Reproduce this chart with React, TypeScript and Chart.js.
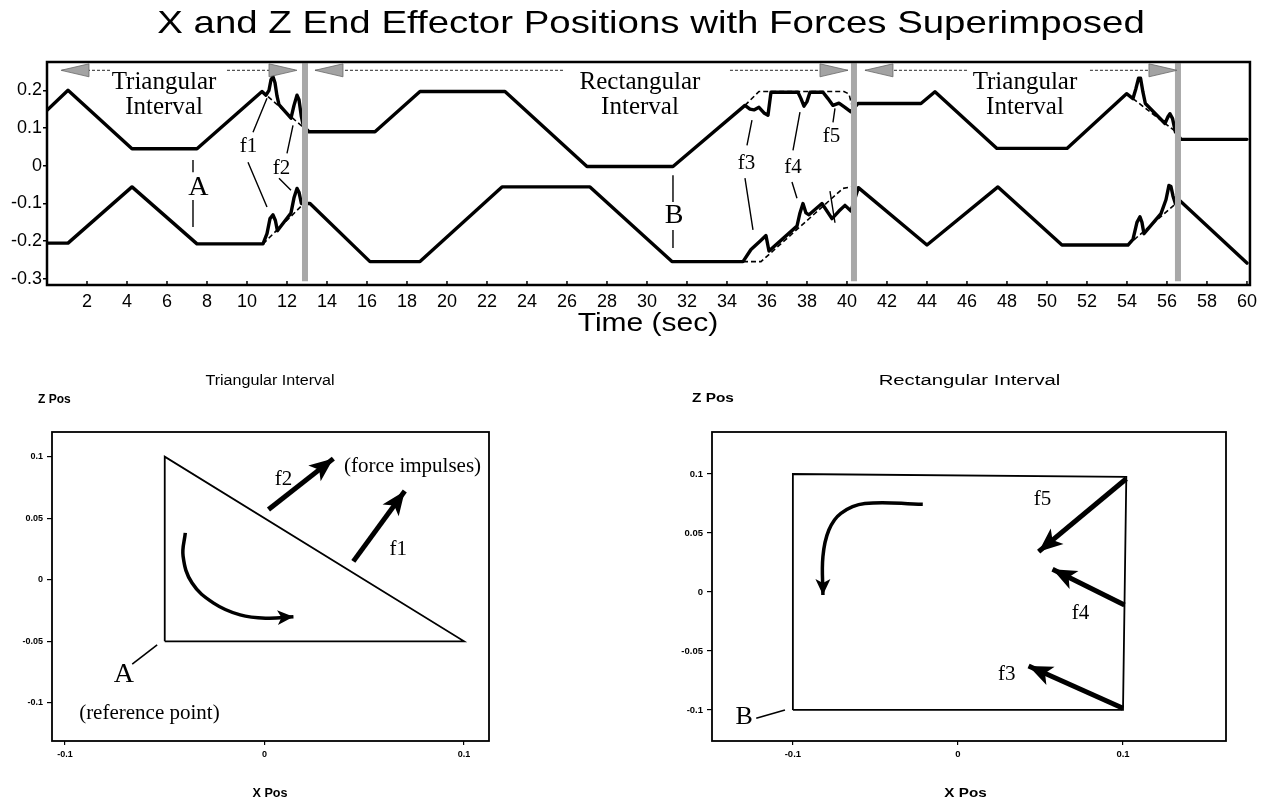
import React, { useEffect, useRef } from 'react';
import { Chart, registerables } from 'chart.js';

Chart.register(...registerables);

// ---------------- top chart: time traces ----------------
const TIME_TICKS = [2, 4, 6, 8, 10, 12, 14, 16, 18, 20, 22, 24, 26, 28, 30, 32, 34, 36, 38, 40, 42, 44, 46, 48, 50, 52, 54, 56, 58, 60];
const POS_TICKS = [-0.3, -0.2, -0.1, 0, 0.1, 0.2];

// upper trace (X end effector position)
const UPPER_T = [0, 1.05, 4.25, 7.5, 10.75, 10.95, 11.1, 11.2, 11.3, 11.4, 11.5, 11.6, 12.2, 12.35, 12.5, 12.6, 12.72, 12.82, 13.1, 16.4, 18.65, 22.9, 27.0, 31.3, 34.9, 35.15, 35.35, 35.6, 35.85, 36.05, 36.2, 37.55, 37.7, 37.85, 38.0, 38.15, 38.8, 39.05, 39.3, 39.6, 39.9, 40.2, 40.55, 43.7, 44.4, 47.5, 51.0, 53.98, 54.3, 54.45, 54.58, 54.68, 54.8, 54.92, 55.9, 56.05, 56.15, 56.28, 56.42, 56.7, 60];
const UPPER_V = [0.147, 0.2, 0.045, 0.045, 0.197, 0.187, 0.2, 0.228, 0.236, 0.22, 0.185, 0.162, 0.126, 0.16, 0.187, 0.175, 0.13, 0.105, 0.09, 0.09, 0.197, 0.197, -0.002, -0.002, 0.16, 0.15, 0.148, 0.155, 0.14, 0.134, 0.195, 0.195, 0.178, 0.158, 0.17, 0.195, 0.195, 0.178, 0.16, 0.166, 0.155, 0.143, 0.165, 0.165, 0.196, 0.046, 0.046, 0.191, 0.178, 0.205, 0.232, 0.232, 0.195, 0.165, 0.112, 0.13, 0.138, 0.125, 0.09, 0.07, 0.07];

// lower trace (Z end effector position)
const LOWER_T = [0, 1.05, 4.25, 7.5, 10.8, 11.0, 11.15, 11.3, 11.42, 11.52, 12.2, 12.35, 12.5, 12.6, 12.72, 13.15, 16.15, 18.65, 22.75, 27.15, 31.25, 34.8, 35.2, 35.65, 35.95, 36.1, 37.5, 37.65, 37.8, 37.95, 38.1, 38.75, 39.25, 39.6, 39.9, 40.2, 40.57, 44.0, 47.55, 50.75, 54.05, 54.3, 54.5, 54.65, 54.75, 54.85, 55.7, 55.95, 56.1, 56.2, 56.3, 56.42, 56.65, 60];
const LOWER_V = [-0.205, -0.205, -0.056, -0.207, -0.207, -0.18, -0.14, -0.13, -0.145, -0.172, -0.125, -0.085, -0.06, -0.07, -0.1, -0.1, -0.254, -0.254, -0.056, -0.056, -0.254, -0.254, -0.222, -0.2, -0.185, -0.226, -0.16, -0.125, -0.1, -0.125, -0.13, -0.1, -0.14, -0.12, -0.105, -0.12, -0.058, -0.21, -0.056, -0.21, -0.21, -0.195, -0.15, -0.135, -0.15, -0.18, -0.127, -0.09, -0.052, -0.055, -0.08, -0.1, -0.093, -0.258];

// nominal (force-free) paths, dashed; null splits segments
const NOMINAL_UPPER_T = [10.75, 12.85, 12.9, 34.9, 35.6, 39.85, 40.1, 40.3, 40.4, 53.98, 56.45];
const NOMINAL_UPPER_V = [0.197, 0.1, null, 0.16, 0.197, 0.197, 0.19, 0.15, null, 0.191, 0.09];
const NOMINAL_LOWER_T = [10.8, 12.85, 12.9, 34.8, 35.7, 39.8, 40.35, 40.4, 54.05, 56.45];
const NOMINAL_LOWER_V = [-0.207, -0.1, null, -0.254, -0.254, -0.06, -0.055, null, -0.21, -0.1];

// interval boundaries (gray bars)
const BOUNDARY_T = [12.9, 40.35, 56.55];
const BOUNDARY_SPAN = [-0.306, 0.272];

// interval arrows along the top
const ARROW_TAIL_T = [3.15, 9.0, 25.8, 34.15, 46.0, 52.15];
const ARROW_TIP_T = [0.7, 12.5, 13.4, 40.05, 40.9, 56.5];
const ARROW_LEVEL = 0.253;

const INTERVAL_NAMES = ['Triangular', 'Rectangular', 'Triangular'];
const INTERVAL_CENTER_T = [5.85, 29.65, 48.9];

// force labels on the traces
const FORCE_LABELS = ['f1', 'f2', 'A', 'B', 'f3', 'f4', 'f5'];
const FORCE_LABEL_T = [10.07, 11.73, 7.57, 31.35, 34.98, 37.3, 39.23];
const FORCE_LABEL_V = [0.05, -0.007, -0.059, -0.131, 0.006, -0.005, 0.077];

// leader lines (pairs of points, null separates)
const LEADER_T = [10.3, 11.0, 0, 10.05, 11.0, 0, 12.0, 12.3, 0, 11.6, 12.2, 0, 7.3, 7.3, 0, 7.3, 7.3, 0, 31.3, 31.3, 0, 31.3, 31.3, 0, 35.25, 35.0, 0, 34.9, 35.3, 0, 37.65, 37.3, 0, 37.25, 37.5, 0, 39.4, 39.3, 0, 39.15, 39.4];
const LEADER_V = [0.089, 0.179, null, 0.0095, -0.1095, null, 0.033, 0.107, null, -0.033, -0.065, null, 0.015, -0.017, null, -0.091, -0.162, null, -0.025, -0.096, null, -0.17, -0.218, null, 0.121, 0.054, null, -0.033, -0.17, null, 0.142, 0.041, null, -0.043, -0.086, null, 0.152, 0.115, null, -0.067, -0.151];

// ---------------- bottom-left: triangular interval ----------------
const TRI_X_TICKS = [-0.1, 0, 0.1];
const TRI_Z_TICKS = [-0.1, -0.05, 0, 0.05, 0.1];
const TRI_PATH_X = [-0.05, -0.05, 0.1, -0.05];
const TRI_PATH_Z = [-0.05, 0.1, -0.05, -0.05];
const TRI_FORCE_TAIL_X = [0.0445, 0.002];
const TRI_FORCE_TAIL_Z = [0.0149, 0.057];
const TRI_FORCE_TIP_X = [0.0703, 0.0345];
const TRI_FORCE_TIP_Z = [0.072, 0.0984];
const TRI_TURN_X = [-0.0397, -0.0408, -0.0363, -0.0255, -0.0122, 0.0012, 0.0145];
const TRI_TURN_Z = [0.038, 0.019, -0.0027, -0.019, -0.0286, -0.0313, -0.03];
const TRI_A_LEADER_X = [-0.0663, -0.0538];
const TRI_A_LEADER_Z = [-0.0685, -0.053];

// ---------------- bottom-right: rectangular interval ----------------
const RECT_X_TICKS = [-0.1, 0, 0.1];
const RECT_Z_TICKS = [-0.1, -0.05, 0, 0.05, 0.1];
const RECT_PATH_X = [-0.1, -0.1, 0.102, 0.1, -0.1];
const RECT_PATH_Z = [-0.1, 0.1, 0.0975, -0.1, -0.1];
const RECT_FORCE_TAIL_X = [0.1, 0.1009, 0.102];
const RECT_FORCE_TAIL_Z = [-0.0986, -0.011, 0.096];
const RECT_FORCE_TIP_X = [0.0428, 0.0573, 0.0489];
const RECT_FORCE_TIP_Z = [-0.0627, 0.0192, 0.0342];
const RECT_TURN_X = [-0.0213, -0.0564, -0.0709, -0.0782, -0.0818, -0.0818];
const RECT_TURN_Z = [0.0743, 0.075, 0.0667, 0.0525, 0.03, -0.0025];
const RECT_B_LEADER_X = [-0.1222, -0.1048];
const RECT_B_LEADER_Z = [-0.107, -0.1];

// ---------------- helpers ----------------
const SANS = "'Liberation Sans', Arial, Helvetica, sans-serif";
const SERIF = "'Liberation Serif', 'Times New Roman', Times, serif";

const zip = (xs: number[], ys: (number | null)[]) => xs.map((x, i) => ({ x, y: ys[i] }));

type Head = { len: number; hw: number; notch: number; fill: string; stroke?: string };
type Label = { text: string; x: number; y: number; font: string; baseline?: CanvasTextBaseline; sx?: number };
type FixedText = { text: string; x: number; y: number; font: string; align?: CanvasTextAlign; sx?: number };

function drawText(ctx: CanvasRenderingContext2D, t: string, x: number, y: number, font: string, align: CanvasTextAlign, baseline: CanvasTextBaseline, sx = 1) {
  ctx.save();
  ctx.translate(x, y);
  ctx.scale(sx, 1);
  ctx.font = font;
  ctx.textAlign = align;
  ctx.textBaseline = baseline;
  ctx.fillStyle = '#000';
  ctx.fillText(t, 0, 0);
  ctx.restore();
}

function drawHead(ctx: CanvasRenderingContext2D, ax: number, ay: number, bx: number, by: number, h: Head) {
  const dx = bx - ax, dy = by - ay;
  const L = Math.hypot(dx, dy) || 1;
  const ux = dx / L, uy = dy / L;
  const nx = -uy, ny = ux;
  const px = bx - ux * h.len, py = by - uy * h.len;
  ctx.save();
  ctx.beginPath();
  ctx.moveTo(bx, by);
  ctx.lineTo(px + nx * h.hw, py + ny * h.hw);
  ctx.lineTo(bx - ux * (h.len - h.notch), by - uy * (h.len - h.notch));
  ctx.lineTo(px - nx * h.hw, py - ny * h.hw);
  ctx.closePath();
  ctx.fillStyle = h.fill;
  ctx.fill();
  if (h.stroke) {
    ctx.strokeStyle = h.stroke;
    ctx.lineWidth = 0.8;
    ctx.stroke();
  }
  ctx.restore();
}

function overlayPlugin(cfg: { frameWidth: number; innerXTicks?: boolean; labels: Label[]; texts: FixedText[] }) {
  return {
    id: 'overlay',
    afterDatasetsDraw(chart: any) {
      const ctx: CanvasRenderingContext2D = chart.ctx;
      const { left, right, top, bottom } = chart.chartArea;
      const xs = chart.scales.x, ys = chart.scales.y;
      // frame
      ctx.save();
      ctx.strokeStyle = '#000';
      ctx.lineWidth = cfg.frameWidth;
      ctx.strokeRect(left, top, right - left, bottom - top);
      if (cfg.innerXTicks) {
        ctx.lineWidth = 1.5;
        xs.ticks.forEach((tk: any) => {
          const px = xs.getPixelForValue(tk.value);
          ctx.beginPath();
          ctx.moveTo(px, bottom);
          ctx.lineTo(px, bottom - 4);
          ctx.stroke();
        });
      }
      ctx.restore();
      // arrow heads
      chart.data.datasets.forEach((ds: any, i: number) => {
        if (!ds.arrowHead) return;
        const pts = chart.getDatasetMeta(i).data.filter((p: any) => !p.skip);
        if (pts.length < 2) return;
        const a = pts[pts.length - 2], b = pts[pts.length - 1];
        drawHead(ctx, a.x, a.y, b.x, b.y, ds.arrowHead);
      });
      // labels in data coordinates
      cfg.labels.forEach((l) => {
        drawText(ctx, l.text, xs.getPixelForValue(l.x), ys.getPixelForValue(l.y), l.font, 'center', l.baseline || 'middle', l.sx || 1);
      });
      // fixed texts
      cfg.texts.forEach((t) => {
        drawText(ctx, t.text, t.x, t.y, t.font, t.align || 'center', 'alphabetic', t.sx || 1);
      });
    },
  };
}

// ---------------- configs ----------------
function topConfig(): any {
  const grayHead: Head = { len: 28, hw: 6.5, notch: 0, fill: '#a3a3a3', stroke: '#6a6a6a' };
  const datasets: any[] = [];
  BOUNDARY_T.forEach((t) => {
    datasets.push({ data: [{ x: t, y: BOUNDARY_SPAN[0] }, { x: t, y: BOUNDARY_SPAN[1] }], borderColor: '#a8a8a8', borderWidth: 6, order: 0 });
  });
  ARROW_TAIL_T.forEach((t, i) => {
    datasets.push({ data: [{ x: t, y: ARROW_LEVEL }, { x: ARROW_TIP_T[i], y: ARROW_LEVEL }], borderColor: '#555', borderWidth: 1.3, borderDash: [3, 2], arrowHead: grayHead, order: 1 });
  });
  datasets.push({ label: 'Nominal X', data: zip(NOMINAL_UPPER_T, NOMINAL_UPPER_V), borderColor: '#000', borderWidth: 1.6, borderDash: [5, 3], order: 2 });
  datasets.push({ label: 'Nominal Z', data: zip(NOMINAL_LOWER_T, NOMINAL_LOWER_V), borderColor: '#000', borderWidth: 1.6, borderDash: [5, 3], order: 2 });
  datasets.push({ label: 'Leaders', data: zip(LEADER_T, LEADER_V), borderColor: '#000', borderWidth: 1.4, order: 2 });
  datasets.push({ label: 'X position', data: zip(UPPER_T, UPPER_V), borderColor: '#000', borderWidth: 3.4, borderJoinStyle: 'round', borderCapStyle: 'round', order: 3 });
  datasets.push({ label: 'Z position', data: zip(LOWER_T, LOWER_V), borderColor: '#000', borderWidth: 3.4, borderJoinStyle: 'round', borderCapStyle: 'round', order: 3 });

  const labels: Label[] = [];
  INTERVAL_NAMES.forEach((n, i) => {
    labels.push({ text: n, x: INTERVAL_CENTER_T[i], y: 0.204, font: `25px ${SERIF}`, baseline: 'alphabetic' });
    labels.push({ text: 'Interval', x: INTERVAL_CENTER_T[i], y: 0.137, font: `25px ${SERIF}`, baseline: 'alphabetic' });
  });
  FORCE_LABELS.forEach((n, i) => {
    const big = n === 'A' || n === 'B';
    labels.push({ text: n, x: FORCE_LABEL_T[i], y: FORCE_LABEL_V[i], font: `${big ? 28 : 21}px ${SERIF}` });
  });

  return {
    type: 'line',
    data: { datasets },
    options: {
      animation: false,
      responsive: false,
      maintainAspectRatio: false,
      devicePixelRatio: 1,
      layout: { padding: { left: 0, right: 13, top: 62, bottom: 0 } },
      elements: { point: { radius: 0, hoverRadius: 0 }, line: { tension: 0 } },
      plugins: { legend: { display: false }, tooltip: { enabled: false } },
      scales: {
        x: {
          type: 'linear',
          min: 0,
          max: 60.15,
          afterBuildTicks: (s: any) => { s.ticks = TIME_TICKS.map((v) => ({ value: v })); },
          afterFit: (s: any) => { s.height = 60; },
          ticks: { autoSkip: false, maxRotation: 0, padding: 6, color: '#000', font: { family: SANS, size: 18 }, callback: (v: any) => String(v) },
          grid: { display: false, drawTicks: false },
          border: { display: false },
        },
        y: {
          type: 'linear',
          min: -0.316,
          max: 0.275,
          afterBuildTicks: (s: any) => { s.ticks = POS_TICKS.map((v) => ({ value: v })); },
          afterFit: (s: any) => { s.width = 47; },
          ticks: { padding: 1, color: '#000', font: { family: SANS, size: 18 }, callback: (v: any) => String(v) },
          grid: { display: true, drawOnChartArea: false, drawTicks: true, tickLength: 4, color: '#000', lineWidth: 1.5 },
          border: { display: false },
        },
      },
    },
    plugins: [
      overlayPlugin({
        frameWidth: 2.5,
        innerXTicks: true,
        labels,
        texts: [
          { text: 'X and Z End Effector Positions with Forces Superimposed', x: 651, y: 33, font: `32px ${SANS}`, sx: 1.2 },
          { text: 'Time (sec)', x: 648, y: 331, font: `25px ${SANS}`, sx: 1.2 },
        ],
      }),
    ],
  };
}

function pathConfig(o: {
  xMin: number; xMax: number; zMin: number; zMax: number; xTicks: number[]; zTicks: number[];
  padRight: number; yWidth: number; tickFont: number;
  path: { x: number[]; z: number[] };
  tails: { x: number[]; z: number[] }; tips: { x: number[]; z: number[] };
  turn: { x: number[]; z: number[] }; leader: { x: number[]; z: number[] };
  labels: Label[]; texts: FixedText[];
}): any {
  const forceHead: Head = { len: 24, hw: 10, notch: 6, fill: '#000' };
  const turnHead: Head = { len: 16, hw: 7.5, notch: 4, fill: '#000' };
  const datasets: any[] = [];
  datasets.push({ label: 'Path', data: zip(o.path.x, o.path.z), borderColor: '#000', borderWidth: 1.8, order: 3 });
  o.tails.x.forEach((tx, i) => {
    datasets.push({ label: 'Force', data: [{ x: tx, y: o.tails.z[i] }, { x: o.tips.x[i], y: o.tips.z[i] }], borderColor: '#000', borderWidth: 5, arrowHead: forceHead, order: 1 });
  });
  datasets.push({ label: 'Direction', data: zip(o.turn.x, o.turn.z), borderColor: '#000', borderWidth: 3.5, tension: 0.4, arrowHead: turnHead, order: 1 });
  datasets.push({ label: 'Leader', data: zip(o.leader.x, o.leader.z), borderColor: '#000', borderWidth: 1.6, order: 2 });
  const tickFont = { family: SANS, size: o.tickFont, weight: 'bold' as const };
  return {
    type: 'line',
    data: { datasets },
    options: {
      animation: false,
      responsive: false,
      maintainAspectRatio: false,
      devicePixelRatio: 1,
      layout: { padding: { left: 0, right: o.padRight, top: 72, bottom: 0 } },
      elements: { point: { radius: 0, hoverRadius: 0 }, line: { tension: 0 } },
      plugins: { legend: { display: false }, tooltip: { enabled: false } },
      scales: {
        x: {
          type: 'linear',
          min: o.xMin,
          max: o.xMax,
          afterBuildTicks: (s: any) => { s.ticks = o.xTicks.map((v) => ({ value: v })); },
          afterFit: (s: any) => { s.height = 60; },
          ticks: { autoSkip: false, maxRotation: 0, padding: 4, color: '#000', font: tickFont, callback: (v: any) => String(v) },
          grid: { display: true, drawOnChartArea: false, drawTicks: true, tickLength: 4, color: '#000', lineWidth: 1.2 },
          border: { display: false },
        },
        y: {
          type: 'linear',
          min: o.zMin,
          max: o.zMax,
          afterBuildTicks: (s: any) => { s.ticks = o.zTicks.map((v) => ({ value: v })); },
          afterFit: (s: any) => { s.width = o.yWidth; },
          ticks: { padding: 4, color: '#000', font: tickFont, callback: (v: any) => String(v) },
          grid: { display: true, drawOnChartArea: false, drawTicks: true, tickLength: 5, color: '#000', lineWidth: 1.2 },
          border: { display: false },
        },
      },
    },
    plugins: [overlayPlugin({ frameWidth: 1.8, labels: o.labels, texts: o.texts })],
  };
}

function triConfig() {
  return pathConfig({
    xMin: -0.1065, xMax: 0.1125, zMin: -0.131, zMax: 0.12,
    xTicks: TRI_X_TICKS, zTicks: TRI_Z_TICKS,
    padRight: 151, yWidth: 52, tickFont: 9,
    path: { x: TRI_PATH_X, z: TRI_PATH_Z },
    tails: { x: TRI_FORCE_TAIL_X, z: TRI_FORCE_TAIL_Z },
    tips: { x: TRI_FORCE_TIP_X, z: TRI_FORCE_TIP_Z },
    turn: { x: TRI_TURN_X, z: TRI_TURN_Z },
    leader: { x: TRI_A_LEADER_X, z: TRI_A_LEADER_Z },
    labels: [
      { text: 'f2', x: 0.0095, y: 0.0815, font: `21px ${SERIF}` },
      { text: '(force impulses)', x: 0.0742, y: 0.0923, font: `21px ${SERIF}` },
      { text: 'f1', x: 0.067, y: 0.0244, font: `21px ${SERIF}` },
      { text: 'A', x: -0.0705, y: -0.0767, font: `28px ${SERIF}` },
      { text: '(reference point)', x: -0.0577, y: -0.1087, font: `21px ${SERIF}` },
    ],
    texts: [
      { text: 'Triangular Interval', x: 270, y: 25, font: `14px ${SANS}`, sx: 1.15 },
      { text: 'Z Pos', x: 38, y: 43, font: `bold 12px ${SANS}`, align: 'left' },
      { text: 'X Pos', x: 270, y: 437, font: `bold 12px ${SANS}`, sx: 1.05 },
    ],
  });
}

function rectConfig() {
  return pathConfig({
    xMin: -0.149, xMax: 0.1624, zMin: -0.1263, zMax: 0.1356,
    xTicks: RECT_X_TICKS, zTicks: RECT_Z_TICKS,
    padRight: 37, yWidth: 72, tickFont: 9.5,
    path: { x: RECT_PATH_X, z: RECT_PATH_Z },
    tails: { x: RECT_FORCE_TAIL_X, z: RECT_FORCE_TAIL_Z },
    tips: { x: RECT_FORCE_TIP_X, z: RECT_FORCE_TIP_Z },
    turn: { x: RECT_TURN_X, z: RECT_TURN_Z },
    leader: { x: RECT_B_LEADER_X, z: RECT_B_LEADER_Z },
    labels: [
      { text: 'f5', x: 0.0513, y: 0.078, font: `21px ${SERIF}` },
      { text: 'f4', x: 0.0743, y: -0.018, font: `21px ${SERIF}` },
      { text: 'f3', x: 0.0295, y: -0.0703, font: `21px ${SERIF}` },
      { text: 'B', x: -0.1295, y: -0.1057, font: `26px ${SERIF}` },
    ],
    texts: [
      { text: 'Rectangular Interval', x: 329.5, y: 25, font: `14px ${SANS}`, sx: 1.45 },
      { text: 'Z Pos', x: 52, y: 42, font: `bold 12px ${SANS}`, align: 'left', sx: 1.28 },
      { text: 'X Pos', x: 325.5, y: 437, font: `bold 12px ${SANS}`, sx: 1.27 },
    ],
  });
}

function ChartCanvas(props: { left: number; top: number; width: number; height: number; make: () => any }) {
  const ref = useRef<HTMLCanvasElement>(null);
  useEffect(() => {
    const chart = new Chart(ref.current as HTMLCanvasElement, props.make());
    return () => chart.destroy();
  }, []);
  return (
    <canvas
      ref={ref}
      width={props.width}
      height={props.height}
      style={{ position: 'absolute', left: props.left, top: props.top, width: props.width, height: props.height }}
    />
  );
}

export default function App() {
  return (
    <div style={{ position: 'absolute', left: 0, top: 0, width: 1263, height: 801, background: '#fff', overflow: 'hidden' }}>
      <ChartCanvas left={0} top={0} width={1263} height={345} make={topConfig} />
      <ChartCanvas left={0} top={360} width={640} height={441} make={triConfig} />
      <ChartCanvas left={640} top={360} width={623} height={441} make={rectConfig} />
    </div>
  );
}
